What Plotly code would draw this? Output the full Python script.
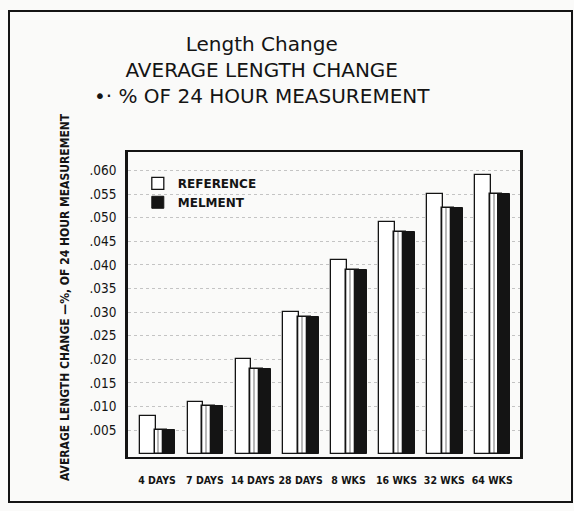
import numpy as np
import plotly.graph_objects as go

# Test ages and average length change (% of 24 hour measurement)
categories = ["4 DAYS", "7 DAYS", "14 DAYS", "28 DAYS", "8 WKS", "16 WKS", "32 WKS", "64 WKS"]
reference = [0.008, 0.011, 0.020, 0.030, 0.041, 0.049, 0.055, 0.059]
melment = [0.005, 0.010, 0.018, 0.029, 0.039, 0.047, 0.052, 0.055]

y_ticks = [0.005, 0.010, 0.015, 0.020, 0.025, 0.030, 0.035, 0.040, 0.045, 0.050, 0.055, 0.060]
y_tick_labels = [".005", ".010", ".015", ".020", ".025", ".030", ".035", ".040", ".045", ".050", ".055", ".060"]

pos = np.arange(len(categories))
ink = "#141414"
narrow = "DejaVu Sans Condensed, Liberation Sans Narrow, sans-serif"

fig = go.Figure()

# Reference: open bar, sitting behind and to the left
fig.add_trace(go.Bar(
    x=pos, y=reference, name="REFERENCE",
    offset=-0.36, width=0.33,
    marker=dict(color="white", line=dict(color=ink, width=1.3)),
))

# Melment: streaked front face plus a dark side
fig.add_trace(go.Bar(
    x=pos, y=melment, name="MELMENT face", showlegend=False,
    offset=-0.05, width=0.26,
    marker=dict(color="white", line=dict(color=ink, width=1.5),
                pattern=dict(shape="|", fgcolor=ink, bgcolor="white", size=4, solidity=0.3)),
))
fig.add_trace(go.Bar(
    x=pos, y=melment, name="MELMENT",
    offset=0.13, width=0.25,
    marker=dict(color=ink, line=dict(color=ink, width=1)),
))

annotations = [
    dict(text="Length Change<br>AVERAGE LENGTH CHANGE<br>•· % OF 24 HOUR MEASUREMENT",
         x=(262 - 128) / 392, y=(457 - 70) / 305,
         xref="paper", yref="paper", showarrow=False, xanchor="center", yanchor="middle",
         align="center",
         font=dict(family="DejaVu Sans, sans-serif", size=20, color=ink)),
    dict(text="AVERAGE LENGTH CHANGE —%, OF 24 HOUR MEASUREMENT",
         x=(65 - 128) / 392, y=(457 - 297) / 305, xref="paper", yref="paper",
         showarrow=False, textangle=-90, xanchor="center", yanchor="middle",
         font=dict(family=narrow, size=12, color=ink, weight="bold")),
]

fig.update_layout(
    width=574, height=511,
    margin=dict(l=128, r=54, t=152, b=54, autoexpand=False),
    paper_bgcolor="#fafaf9", plot_bgcolor="#fafaf9",
    barmode="overlay", bargap=0,
    showlegend=True,
    legend=dict(x=0.025, y=0.945, xanchor="left", yanchor="top",
                bgcolor="rgba(0,0,0,0)", tracegroupgap=2,
                font=dict(family="DejaVu Sans, sans-serif", size=12, color=ink, weight="bold")),
    annotations=annotations,
    shapes=[dict(type="rect", xref="paper", yref="paper",
                 x0=(9 - 128) / 392, x1=(572 - 128) / 392,
                 y0=(457 - 502) / 305, y1=(457 - 11) / 305,
                 line=dict(color=ink, width=2), fillcolor="rgba(0,0,0,0)", layer="below")],
)

fig.update_xaxes(
    range=[-0.605, 7.58], tickvals=pos, ticktext=categories, tickangle=0,
    showline=True, linecolor=ink, linewidth=2, mirror=True,
    showgrid=False, zeroline=False, ticks="", ticklabelstandoff=12,
    tickfont=dict(family=narrow, size=10.5, color=ink, weight="bold"),
)
fig.update_yaxes(
    range=[-0.0007, 0.0639], tickvals=y_ticks, ticktext=y_tick_labels,
    showline=True, linecolor=ink, linewidth=2.5, mirror=True,
    showgrid=True, gridcolor="#c4c4c4", griddash="dot", gridwidth=1,
    zeroline=False, ticks="", ticklabelstandoff=6,
    tickfont=dict(family=narrow, size=13.5, color=ink),
)

fig.write_html("out.html")
